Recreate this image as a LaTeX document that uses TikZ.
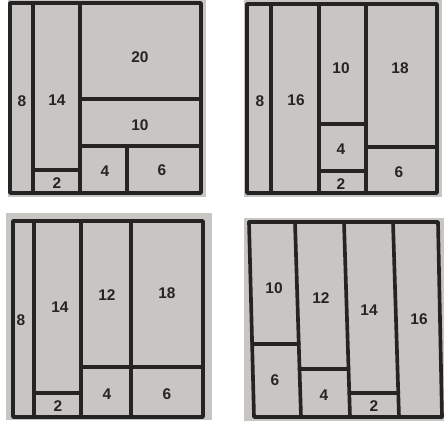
\documentclass[tikz,border=0pt]{standalone}
\usepackage{fontspec}
\setmainfont{Liberation Sans}
\definecolor{paper}{RGB}{200,198,194}
\definecolor{ink}{RGB}{38,36,34}
\tikzset{
  wall/.style={draw=ink, line width=2.6pt, line cap=round, line join=round},
  num/.style={font=\fontsize{11}{13}\selectfont\bfseries, text=ink, inner sep=0pt}
}
\begin{document}
\begin{tikzpicture}[x=0.25mm,y=-0.25mm]
\useasboundingbox (0,0) rectangle (444,426);
\fill[white] (0,0) rectangle (444,426);

% top left
\fill[paper] (8,0) rectangle (206,197);
\draw[wall] (10,3) rectangle (201,193);
\draw[wall] (33,3) -- (33,193);
\draw[wall] (80,3) -- (80,193);
\draw[wall] (80,99) -- (201,99);
\draw[wall] (80,146) -- (201,146);
\draw[wall] (127,146) -- (127,193);
\draw[wall] (33,170) -- (80,170);

\node[num] (a8) at (22,101) {8};
\node[num] (a14) at (57,100) {14};
\node[num] (a20) at (140,57) {20};
\node[num] (a10) at (140,125) {10};
\node[num] (a4) at (105,171) {4};
\node[num] (a6) at (162,170) {6};
\node[num] (a2) at (57,183) {2};

% top right
\fill[paper] (244,0) rectangle (442,197);
\draw[wall] (247,4) rectangle (437,193);
\draw[wall] (271,4) -- (271,193);
\draw[wall] (319,4) -- (319,193);
\draw[wall] (366,4) -- (366,193);
\draw[wall] (319,124) -- (366,124);
\draw[wall] (319,171) -- (366,171);
\draw[wall] (366,147) -- (437,147);

\node[num] (b8) at (260,101) {8};
\node[num] (b16) at (296,100) {16};
\node[num] (b10) at (341,68) {10};
\node[num] (b18) at (400,68) {18};
\node[num] (b4) at (341,149) {4};
\node[num] (b2) at (341,184) {2};
\node[num] (b6) at (399,172) {6};

% bottom left
\fill[paper] (6,213) rectangle (212,420);
\draw[wall] (13,221) rectangle (203,417);
\draw[wall] (34,221) -- (34,417);
\draw[wall] (81,221) -- (81,417);
\draw[wall] (131,221) -- (131,417);
\draw[wall] (81,367) -- (203,367);
\draw[wall] (34,393) -- (81,393);

\node[num] (c8) at (21,320) {8};
\node[num] (c14) at (60,307) {14};
\node[num] (c12) at (107,295) {12};
\node[num] (c18) at (167,293) {18};
\node[num] (c4) at (107,394) {4};
\node[num] (c6) at (167,394) {6};
\node[num] (c2) at (58,406) {2};

% bottom right
\fill[paper] (244,218) rectangle (444,421);
\draw[wall] (249,222) -- (438,222) -- (442,417) -- (254,417) -- cycle;
\draw[wall] (295,222) -- (301,417);
\draw[wall] (344,222) -- (350,417);
\draw[wall] (393,222) -- (399,417);
\draw[wall] (252.1,344) -- (298.8,344);
\draw[wall] (299.5,369) -- (348.5,369);
\draw[wall] (349.3,393) -- (398.3,393);

\node[num] (d10) at (274,288) {10};
\node[num] (d12) at (321,298) {12};
\node[num] (d14) at (369,310) {14};
\node[num] (d16) at (419,319) {16};
\node[num] (d6) at (275,380) {6};
\node[num] (d4) at (324,395) {4};
\node[num] (d2) at (374,406) {2};
\end{tikzpicture}
\end{document}
